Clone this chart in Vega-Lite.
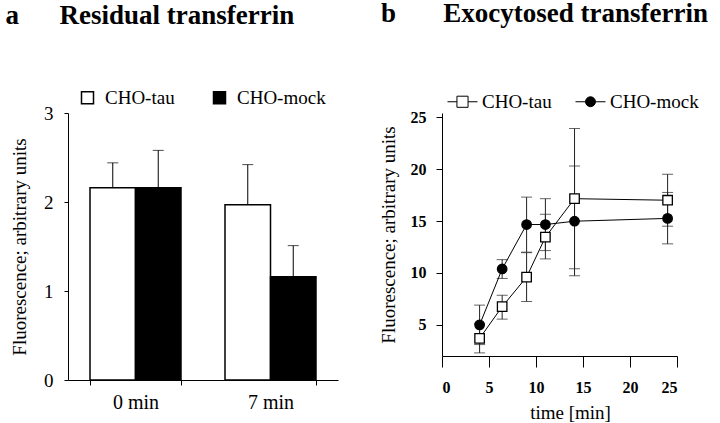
{
  "$schema": "https://vega.github.io/schema/vega-lite/v6.json",
  "padding": {"left": 5, "top": 0, "right": 0, "bottom": 0},
  "spacing": 41,
  "config": {
    "font": "Liberation Serif",
    "view": {"stroke": null},
    "axis": {"domainColor": "black", "tickColor": "black", "labelColor": "black", "titleColor": "black", "labelFont": "Liberation Serif", "titleFont": "Liberation Serif", "grid": false, "titleFontWeight": "normal"},
    "title": {"font": "Liberation Serif", "fontSize": 27, "fontWeight": "bold", "color": "black", "anchor": "start"},
    "legend": {"labelFont": "Liberation Serif", "labelFontSize": 19, "labelColor": "black", "padding": 0}
  },
  "resolve": {"scale": {"fill": "independent", "shape": "independent"}, "legend": {"fill": "independent", "shape": "independent"}},
  "hconcat": [
    {
      "width": 270,
      "height": 267,
      "title": {"text": "a\u00a0\u00a0\u00a0\u00a0\u00a0\u00a0Residual transferrin", "frame": "bounds", "dx": -5, "offset": 58},
      "data": {"values": [
        {"time": "0 min", "group": "CHO-tau", "value": 2.16, "upper": 2.44},
        {"time": "0 min", "group": "CHO-mock", "value": 2.16, "upper": 2.58},
        {"time": "7 min", "group": "CHO-tau", "value": 1.97, "upper": 2.42},
        {"time": "7 min", "group": "CHO-mock", "value": 1.16, "upper": 1.51}
      ]},
      "encoding": {
        "x": {"field": "time", "type": "nominal", "scale": {"paddingInner": 0.326, "paddingOuter": 0.163}, "axis": {"title": null, "labelAngle": 0, "tickBand": "extent", "tickSize": 5, "labelFontSize": 20, "labelPadding": 7}},
        "xOffset": {"field": "group", "type": "nominal", "sort": ["CHO-tau", "CHO-mock"], "scale": {"paddingInner": 0}}
      },
      "layer": [
        {
          "mark": {"type": "bar", "stroke": "black", "strokeWidth": 1.5},
          "encoding": {
            "y": {"field": "value", "type": "quantitative", "title": "Fluorescence; arbitrary units", "scale": {"domain": [0, 3], "nice": false}, "axis": {"values": [0, 1, 2, 3], "format": "d", "titleFontSize": 19, "labelFontSize": 19, "tickSize": 4, "labelPadding": 11, "titlePadding": 14}},
            "fill": {"field": "group", "type": "nominal", "sort": ["CHO-tau", "CHO-mock"], "scale": {"domain": ["CHO-tau", "CHO-mock"], "range": ["white", "black"]},
              "legend": {"orient": "none", "legendX": 10, "legendY": -25, "direction": "horizontal", "title": null, "symbolType": "square", "symbolSize": 144, "symbolStrokeColor": "black", "symbolStrokeWidth": 1.5, "labelFontSize": 19, "labelOffset": 8, "columnPadding": 35, "padding": 0}}
          }
        },
        {
          "mark": {"type": "rule", "color": "black", "strokeWidth": 1},
          "encoding": {
            "y": {"field": "value", "type": "quantitative", "title": "Fluorescence; arbitrary units"},
            "y2": {"field": "upper"}
          }
        },
        {
          "mark": {"type": "tick", "orient": "horizontal", "thickness": 1, "color": "black"},
          "encoding": {
            "y": {"field": "upper", "type": "quantitative", "title": "Fluorescence; arbitrary units"},
            "size": {"value": 11}
          }
        }
      ]
    },
    {
      "width": 235,
      "height": 243,
      "title": {"text": "b\u00a0\u00a0\u00a0\u00a0\u00a0\u00a0\u00a0Exocytosed transferrin", "frame": "bounds", "dx": 2, "offset": 58},
      "data": {"values": [
        {"time": 4, "group": "CHO-tau", "y": 3.7, "lo": 2.3, "hi": 5.1},
        {"time": 6.4, "group": "CHO-tau", "y": 6.75, "lo": 5.55, "hi": 7.85},
        {"time": 9, "group": "CHO-tau", "y": 9.6, "lo": 7.25, "hi": 11.95},
        {"time": 11, "group": "CHO-tau", "y": 13.45, "lo": 11.35, "hi": 15.65},
        {"time": 14.1, "group": "CHO-tau", "y": 17.15, "lo": 10.4, "hi": 23.9},
        {"time": 24, "group": "CHO-tau", "y": 17.0, "lo": 14.5, "hi": 19.5},
        {"time": 4, "group": "CHO-mock", "y": 5.0, "lo": 3.1, "hi": 6.9},
        {"time": 6.4, "group": "CHO-mock", "y": 10.38, "lo": 9.47, "hi": 11.28},
        {"time": 9, "group": "CHO-mock", "y": 14.66, "lo": 12.0, "hi": 17.3},
        {"time": 11, "group": "CHO-mock", "y": 14.66, "lo": 12.15, "hi": 17.15},
        {"time": 14.1, "group": "CHO-mock", "y": 14.98, "lo": 9.73, "hi": 20.3},
        {"time": 24, "group": "CHO-mock", "y": 15.25, "lo": 12.8, "hi": 17.75}
      ]},
      "encoding": {
        "x": {"field": "time", "type": "quantitative", "title": "time [min]", "scale": {"domain": [0, 25], "nice": false}, "axis": {"values": [0, 5, 10, 15, 20, 25], "tickSize": 11, "labelFontWeight": "bold", "labelFontSize": 16, "labelPadding": 12, "titleFontSize": 19, "titlePadding": 8, "titleX": 128}}
      },
      "layer": [
        {
          "mark": {"type": "rule", "color": "#222", "strokeWidth": 1},
          "encoding": {
            "y": {"field": "lo", "type": "quantitative", "title": "Fluorescence; arbitrary units", "scale": {"domain": [2, 25.4], "nice": false, "zero": false}, "axis": {"values": [5, 10, 15, 20, 25], "tickSize": 6, "labelFontWeight": "bold", "labelFontSize": 16, "labelPadding": 10, "titleFontSize": 19, "titlePadding": 12}},
            "y2": {"field": "hi"}
          }
        },
        {
          "mark": {"type": "tick", "orient": "horizontal", "thickness": 1, "color": "#222"},
          "encoding": {
            "y": {"field": "lo", "type": "quantitative", "title": "Fluorescence; arbitrary units"},
            "size": {"value": 11}
          }
        },
        {
          "mark": {"type": "tick", "orient": "horizontal", "thickness": 1, "color": "#222"},
          "encoding": {
            "y": {"field": "hi", "type": "quantitative", "title": "Fluorescence; arbitrary units"},
            "size": {"value": 11}
          }
        },
        {
          "mark": {"type": "line", "color": "black", "strokeWidth": 1},
          "encoding": {
            "y": {"field": "y", "type": "quantitative", "title": "Fluorescence; arbitrary units"},
            "detail": {"field": "group", "type": "nominal"}
          }
        },
        {
          "transform": [{"filter": "datum.group === 'CHO-tau'"}],
          "mark": {"type": "point", "shape": "square", "filled": true, "fill": "white", "stroke": "black", "strokeWidth": 1.3, "opacity": 1, "size": 90},
          "encoding": {
            "y": {"field": "y", "type": "quantitative", "title": "Fluorescence; arbitrary units"}
          }
        },
        {
          "transform": [{"filter": "datum.group === 'CHO-mock'"}],
          "mark": {"type": "point", "shape": "circle", "filled": true, "fill": "black", "stroke": "black", "strokeWidth": 1.3, "opacity": 1, "size": 90},
          "encoding": {
            "y": {"field": "y", "type": "quantitative", "title": "Fluorescence; arbitrary units"}
          }
        },
        {
          "mark": {"type": "point", "filled": true, "opacity": 0, "size": 10},
          "encoding": {
            "y": {"field": "y", "type": "quantitative", "title": "Fluorescence; arbitrary units"},
            "shape": {"field": "group", "type": "nominal", "scale": {"domain": ["CHO-tau", "CHO-mock"], "range": ["M-1,0H-0.37M0.37,0H1M-0.37,-0.37H0.37V0.37H-0.37Z", "M-1,0H1M-0.33,0A0.33,0.33,0,1,0,0.33,0A0.33,0.33,0,1,0,-0.33,0Z"]},
              "legend": {"orient": "none", "legendX": 5, "legendY": -27, "direction": "horizontal", "title": null, "symbolSize": 900, "symbolOpacity": 1, "symbolStrokeColor": "black", "symbolStrokeWidth": 1, "labelFontSize": 19, "labelOffset": 4, "columnPadding": 21, "padding": 0,
                "encode": {"symbols": {"update": {"stroke": {"value": "black"}, "strokeWidth": {"value": 1}, "opacity": {"value": 1}, "strokeOpacity": {"value": 1}}}}}},
            "fill": {"field": "group", "type": "nominal", "scale": {"domain": ["CHO-tau", "CHO-mock"], "range": ["white", "black"]},
              "legend": {"orient": "none", "legendX": 5, "legendY": -27, "direction": "horizontal", "title": null, "symbolSize": 900, "symbolOpacity": 1, "symbolStrokeColor": "black", "symbolStrokeWidth": 1, "labelFontSize": 19, "labelOffset": 4, "columnPadding": 21, "padding": 0,
                "encode": {"symbols": {"update": {"stroke": {"value": "black"}, "strokeWidth": {"value": 1}, "opacity": {"value": 1}, "strokeOpacity": {"value": 1}}}}}}
          }
        }
      ]
    }
  ]
}
